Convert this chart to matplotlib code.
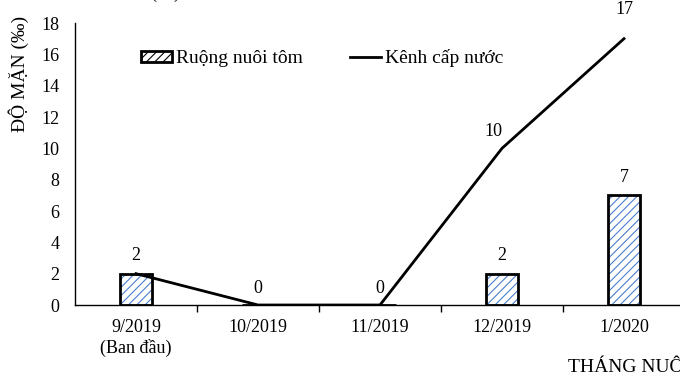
import numpy as np
import matplotlib.pyplot as plt
from matplotlib.patches import Patch
from matplotlib.lines import Line2D

plt.rcParams['font.family'] = ['Liberation Serif', 'DejaVu Serif']
plt.rcParams['hatch.linewidth'] = 0.8

months = ['9/2019\n(Ban đầu)', '10/2019', '11/2019', '12/2019', '1/2020']
ruong = [2, 0, 0, 2, 7]
kenh = [2, 0, 0, 10, 17]
bar_labels = ['2', '', '', '2', '7']
line_labels = ['', '0', '0', '10', '17']

fig = plt.figure(figsize=(6.8, 3.79), dpi=100)
ax = fig.add_axes([75 / 680, 74 / 379, 610 / 680, 282 / 379])

x = np.arange(len(months))
w = 0.27
ax.bar(x, ruong, w, color='white', edgecolor='#4a7fd0', hatch='////', linewidth=0, zorder=2)
ax.bar(x, ruong, w, fill=False, edgecolor='black', linewidth=2, zorder=3)
ax.plot(x, kenh, color='black', linewidth=2, zorder=4)

for i, v in enumerate(ruong):
    if bar_labels[i]:
        ax.annotate(bar_labels[i], (x[i], v), xytext=(0, 7), textcoords='offset points',
                    ha='center', va='bottom', fontsize=13)
for i, v in enumerate(kenh):
    if line_labels[i]:
        dx = -0.07 if v == 10 else 0
        dy = 15 if v == 17 else 6
        ax.annotate(line_labels[i], (x[i] + dx, v), xytext=(0, dy), textcoords='offset points',
                    ha='center', va='bottom', fontsize=13)

ax.set_xlim(-0.5, len(months) - 0.5)
ax.set_ylim(0, 18)
ax.set_yticks(range(0, 19, 2))
ax.set_xticks(x)
ax.set_xticklabels(months, fontsize=13)
ax.set_xticks(x[:-1] + 0.5, minor=True)
ax.tick_params(axis='x', which='major', length=0, pad=10)
ax.tick_params(axis='x', which='minor', length=5, width=1)
ax.tick_params(axis='y', length=0, labelsize=13, pad=11)
for s in ['top', 'right']:
    ax.spines[s].set_visible(False)
ax.spines['left'].set_linewidth(1)
ax.spines['bottom'].set_linewidth(1)

ax.set_ylabel('ĐỘ MẶN (‰)', fontsize=14)
ax.yaxis.set_label_coords(-0.075, 0.82)
fig.text(568 / 680, 1 - 368 / 379, 'THÁNG NUÔI', fontsize=14, ha='left', va='center')
fig.text(150 / 680, 1 + 2 / 379, '(‰)', fontsize=13, ha='left', va='baseline')

handles = [Patch(facecolor='white', edgecolor='black', hatch='////', linewidth=2),
           Line2D([0], [0], color='black', linewidth=2)]
ax.legend(handles, ['Ruộng nuôi tôm', 'Kênh cấp nước'], loc='center left',
          bbox_to_anchor=(0.08, 0.875), ncol=2, frameon=False, fontsize=14,
          handlelength=1.6, handleheight=0.5, handletextpad=0.2, columnspacing=2.4)

fig.savefig('out.png', dpi=100)
